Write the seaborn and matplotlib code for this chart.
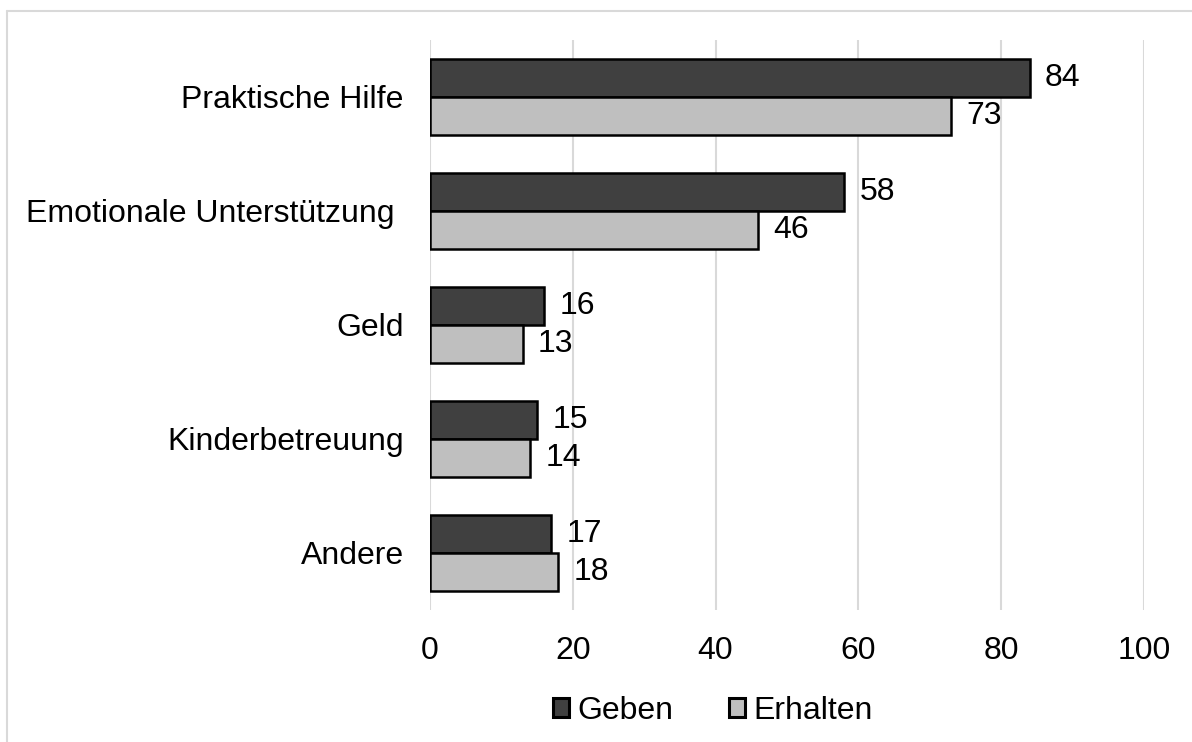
import pandas as pd
import numpy as np
import matplotlib.pyplot as plt
import seaborn as sns
from matplotlib.lines import Line2D

categories = ['Praktische Hilfe', 'Emotionale Unterstützung ', 'Geld', 'Kinderbetreuung', 'Andere']
geben = [84, 58, 16, 15, 17]
erhalten = [73, 46, 13, 14, 18]
series = ['Geben', 'Erhalten']
colors = ['#404040', '#BFBFBF']
xticks = [0, 20, 40, 60, 80, 100]

df = pd.DataFrame({
    'kategorie': categories * 2,
    'wert': geben + erhalten,
    'gruppe': ['Geben'] * len(categories) + ['Erhalten'] * len(categories),
})

sns.set_style('white')
plt.rcParams['font.family'] = ['Liberation Sans', 'DejaVu Sans']
plt.rcParams['text.color'] = 'black'
plt.rcParams['xtick.color'] = 'black'
plt.rcParams['ytick.color'] = 'black'
fs = 23

fig = plt.figure(figsize=(11.92, 7.42), dpi=100)
ax = fig.add_axes([0.3607, 0.1779, 0.599, 0.7682])

sns.barplot(data=df, y='kategorie', x='wert', hue='gruppe', hue_order=series,
            order=categories, palette=colors, orient='h', width=0.667, gap=0,
            edgecolor='black', linewidth=1.8, ax=ax, zorder=3)

for cont in ax.containers:
    ax.bar_label(cont, fmt='%g', padding=11, fontsize=fs, color='black')

ax.set_xlim(0, 100)
ax.set_ylim(4.5, -0.5)
ax.set_xticks(xticks)
ax.xaxis.grid(True, color='#D9D9D9', linewidth=1.5, zorder=0)
ax.set_axisbelow(True)
for s in ax.spines.values():
    s.set_visible(False)
ax.tick_params(axis='x', length=0, pad=19, labelsize=fs)
ax.tick_params(axis='y', length=0, pad=19, labelsize=fs)
ax.set_xlabel('')
ax.set_ylabel('')

leg = ax.legend(loc='center', bbox_to_anchor=(0.598, 0.042), bbox_transform=fig.transFigure,
                ncol=2, frameon=False, fontsize=fs, handlelength=0.5, handleheight=0.5,
                handletextpad=0.25, columnspacing=1.75)
for h in leg.legend_handles:
    h.set_linewidth(2.2)

# light gray outer frame (top and left edge visible)
fig.add_artist(Line2D([7 / 1192, 7 / 1192], [0, 1 - 11 / 742], color='#D9D9D9', linewidth=1.5))
fig.add_artist(Line2D([7 / 1192, 1], [1 - 11 / 742, 1 - 11 / 742], color='#D9D9D9', linewidth=1.5))

fig.savefig('out.png', dpi=100)
